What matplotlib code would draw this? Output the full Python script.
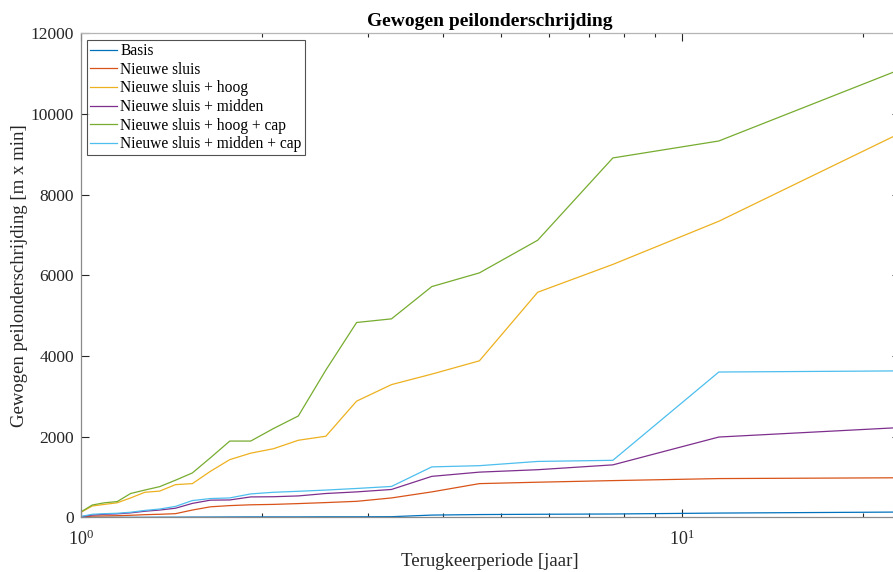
import matplotlib
matplotlib.use("Agg")
import matplotlib.pyplot as plt
import numpy as np
from matplotlib.ticker import LogLocator, FixedLocator, FuncFormatter

plt.rcParams["font.family"] = ["Liberation Serif", "DejaVu Serif"]
plt.rcParams["mathtext.fontset"] = "custom"
plt.rcParams["mathtext.rm"] = "Liberation Serif"
plt.rcParams["mathtext.it"] = "Liberation Serif:italic"

# terugkeerperiode: rangorde over 22 jaar, T = 23 / m
rang = np.arange(23, 0, -1)
terugkeer = 23.0 / rang

basis = [0, 0, 0, 0, 0, 0, 2, 3, 5, 6, 8, 10, 10, 10, 12, 12,
         15, 55, 68, 75, 82, 105, 130]
nieuwe_sluis = [0, 30, 35, 40, 50, 65, 75, 90, 180, 260, 290, 310,
                320, 340, 365, 396, 480, 630, 835, 870, 910, 960, 980]
sluis_hoog = [120, 280, 320, 360, 480, 620, 650, 810, 835, 1140, 1430, 1590,
              1700, 1910, 2010, 2880, 3290, 3550, 3880, 5580, 6270, 7340, 9520]
sluis_midden = [10, 57, 75, 85, 110, 150, 180, 225, 345, 425, 430, 505,
                510, 530, 590, 630, 690, 1015, 1120, 1180, 1300, 1990, 2225]
sluis_hoog_cap = [130, 305, 360, 390, 590, 675, 760, 920, 1100, 1475, 1890, 1890,
                  2200, 2512, 3650, 4830, 4920, 5720, 6060, 6870, 8910, 9330, 11100]
sluis_midden_cap = [20, 75, 90, 100, 125, 170, 205, 270, 415, 465, 480, 580,
                    620, 645, 675, 715, 765, 1250, 1280, 1385, 1413, 3602, 3630]

labels = ["Basis", "Nieuwe sluis", "Nieuwe sluis + hoog", "Nieuwe sluis + midden",
          "Nieuwe sluis + hoog + cap", "Nieuwe sluis + midden + cap"]
kleuren = ["#0072BD", "#D95319", "#EDB120", "#7E2F8E", "#77AC30", "#4DBEEE"]
reeksen = [basis, nieuwe_sluis, sluis_hoog, sluis_midden, sluis_hoog_cap, sluis_midden_cap]

W, H = 893, 572
fig = plt.figure(figsize=(W / 100, H / 100), dpi=100)
x0, x1, y0, y1 = 80.7, 899.9, 517.3, 33.3
ax = fig.add_axes([x0 / W, (H - y0) / H, (x1 - x0) / W, (y0 - y1) / H])

for reeks, kleur, label in zip(reeksen, kleuren, labels):
    ax.plot(terugkeer, reeks, color=kleur, lw=0.9, label=label)

ax.set_xscale("log")
ax.set_xlim(1, 23)
ax.set_ylim(0, 12000)
ax.set_yticks(np.arange(0, 12001, 2000))
ax.xaxis.set_major_locator(FixedLocator([1, 10]))
ax.xaxis.set_major_formatter(FuncFormatter(lambda v, p: f"10$^{{{int(round(np.log10(v)))}}}$"))
ax.xaxis.set_minor_locator(LogLocator(base=10, subs=np.arange(2, 10)))

for s in ax.spines.values():
    s.set_color("#8a8a8a")
    s.set_linewidth(0.9)
ax.spines["top"].set_color("#b5b5b5")
ax.spines["right"].set_color("#b5b5b5")
ax.tick_params(which="both", direction="in", top=True, right=True, colors="#262626",
               labelsize=12.5)
ax.tick_params(which="major", length=5.8, width=0.8)
ax.tick_params(which="minor", length=3, width=0.8)
ax.tick_params(axis="y", pad=5)
ax.tick_params(axis="x", pad=9, labelsize=13)

ax.set_xlabel("Terugkeerperiode [jaar]", fontsize=13.5, color="#262626", labelpad=2.5)
ax.set_ylabel("Gewogen peilonderschrijding [m x min]", fontsize=13.5, color="#262626",
              labelpad=1.5)
ax.set_title("Gewogen peilonderschrijding", fontsize=14, fontweight="bold", pad=5)

leg = ax.legend(loc="upper left", bbox_to_anchor=((87 - x0) / (x1 - x0), 1 - (40 - y1) / (y0 - y1)),
                borderaxespad=0, fontsize=11.2, frameon=True, fancybox=False,
                handlelength=1.75, handletextpad=0.18, labelspacing=0.17,
                borderpad=0.2)
leg.get_frame().set_edgecolor("#262626")
leg.get_frame().set_linewidth(0.8)

fig.savefig("out.png", dpi=100)
